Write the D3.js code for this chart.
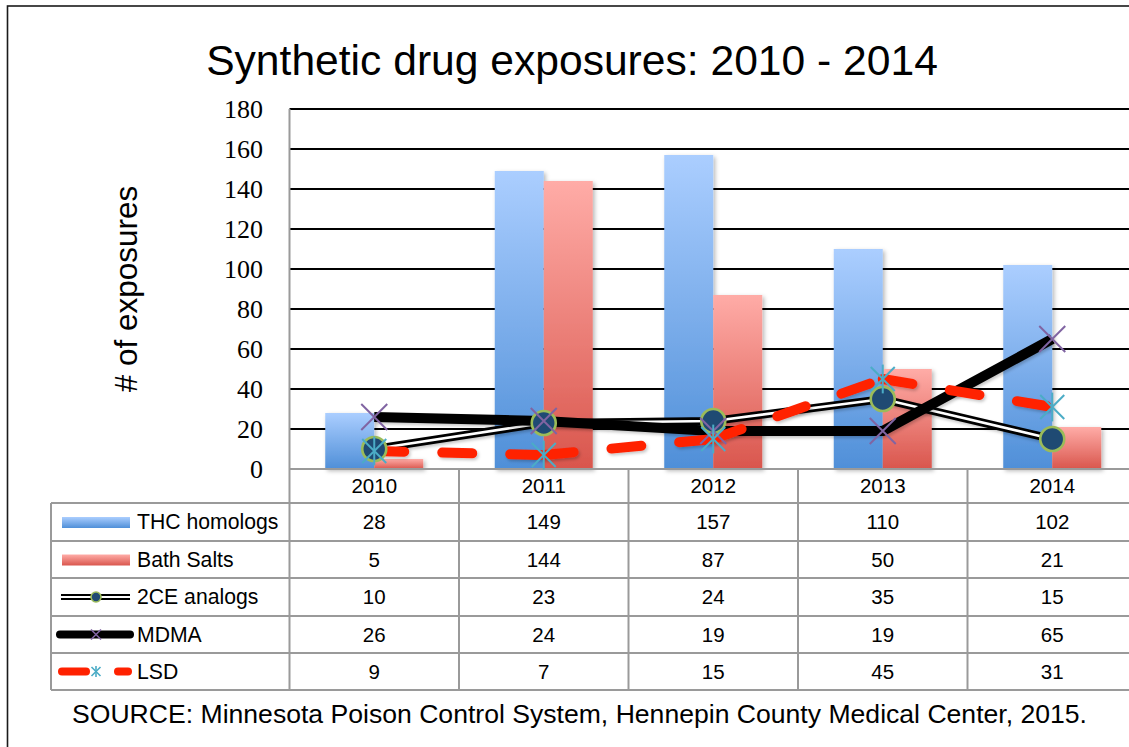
<!DOCTYPE html>
<html>
<head>
<meta charset="utf-8">
<script src="https://cdn.jsdelivr.net/npm/d3@7"></script>
<style>
  html, body { margin: 0; padding: 0; background: #fff; }
  svg { display: block; }
</style>
</head>
<body>
<svg id="chart" width="1129" height="747"></svg>
<script>
// Annual exposures reported per drug class
const years = ["2010", "2011", "2012", "2013", "2014"];
const thcHomologs = [28, 149, 157, 110, 102];
const bathSalts = [5, 144, 87, 50, 21];
const analogs2CE = [10, 23, 24, 35, 15];
const mdma = [26, 24, 19, 19, 65];
const lsd = [9, 7, 15, 45, 31];
const yTicks = [0, 20, 40, 60, 80, 100, 120, 140, 160, 180];
const seriesNames = ["THC homologs", "Bath Salts", "2CE analogs", "MDMA", "LSD"];

const svg = d3.select("#chart");
const W = 1129, H = 747;

const plot = { left: 289.5, right: 1137, top: 109, bottom: 469 };
const x = d3.scaleBand().domain(years).range([plot.left, plot.right]);
const y = d3.scaleLinear().domain([0, 180]).range([plot.bottom, plot.top]);
const barW = 49;
const sub = d3.scaleBand().domain(["thc", "bath"]).range([0, barW * 2]);
const cx = yr => x(yr) + x.bandwidth() / 2;

const defs = svg.append("defs");
function grad(id, top, bottom) {
  const g = defs.append("linearGradient").attr("id", id)
    .attr("x1", 0).attr("y1", 0).attr("x2", 0).attr("y2", 1);
  g.append("stop").attr("offset", "0%").attr("stop-color", top);
  g.append("stop").attr("offset", "100%").attr("stop-color", bottom);
}
grad("gThc", "#abceff", "#4f8fd8");
grad("gBath", "#ffaca7", "#d9564d");
const sh = defs.append("filter").attr("id", "shadow")
  .attr("x", "-20%").attr("y", "-20%").attr("width", "150%").attr("height", "150%");
sh.append("feDropShadow").attr("dx", 2).attr("dy", 2).attr("stdDeviation", 2.2)
  .attr("flood-color", "#000").attr("flood-opacity", 0.28);
const shLine = defs.append("filter").attr("id", "lshadow")
  .attr("x", "-10%").attr("y", "-50%").attr("width", "120%").attr("height", "200%");
shLine.append("feDropShadow").attr("dx", 1.5).attr("dy", 2).attr("stdDeviation", 1.5)
  .attr("flood-color", "#000").attr("flood-opacity", 0.22);

// Outer frame
svg.append("rect").attr("x", 7.5).attr("y", 6).attr("width", W + 20).attr("height", H + 20)
  .attr("fill", "none").attr("stroke", "#1a1a1a").attr("stroke-width", 1.6);

const font = "Liberation Sans, Arial, sans-serif";

// Title
svg.append("text").attr("x", 572).attr("y", 75).attr("text-anchor", "middle")
  .attr("font-family", font).attr("font-size", 42.6)
  .attr("fill", "#000").text("Synthetic drug exposures: 2010 - 2014");

// Y axis title
svg.append("text").attr("transform", "translate(137,289) rotate(-90)")
  .attr("text-anchor", "middle")
  .attr("font-family", font).attr("font-size", 31.5)
  .attr("fill", "#000").text("# of exposures");

// Gridlines
svg.append("g").selectAll("line").data(yTicks.filter(t => t > 0)).join("line")
  .attr("x1", plot.left).attr("x2", W + 10)
  .attr("y1", d => y(d)).attr("y2", d => y(d))
  .attr("stroke", "#000").attr("stroke-width", 2);

// Y axis labels
const yAxis = d3.axisLeft(y).tickValues(yTicks).tickSize(0).tickPadding(0);
const yg = svg.append("g").attr("transform", `translate(263,0)`).call(yAxis);
yg.select(".domain").remove();
yg.selectAll("text").attr("font-family", "Liberation Serif, serif").attr("font-size", 26)
  .attr("fill", "#000").attr("dy", "0.34em");

// Bars
const barG = svg.append("g").attr("filter", "url(#shadow)");
barG.selectAll("rect.thc").data(years).join("rect").attr("class", "thc")
  .attr("x", d => cx(d) - barW + sub("thc"))
  .attr("width", barW)
  .attr("y", (d, i) => y(thcHomologs[i]))
  .attr("height", (d, i) => y(0) - y(thcHomologs[i]))
  .attr("fill", "url(#gThc)");
barG.selectAll("rect.bath").data(years).join("rect").attr("class", "bath")
  .attr("x", d => cx(d) - barW + sub("bath"))
  .attr("width", barW)
  .attr("y", (d, i) => y(bathSalts[i]))
  .attr("height", (d, i) => y(0) - y(bathSalts[i]))
  .attr("fill", "url(#gBath)");

// Table grid (gray)
const tableLeft = 51;
const rowEdges = [503, 541, 578, 616, 653, 690];
const grid = svg.append("g").attr("stroke", "#9a9a9a").attr("stroke-width", 2);
grid.append("line").attr("x1", plot.left).attr("x2", W + 10).attr("y1", plot.bottom).attr("y2", plot.bottom);
grid.selectAll("line.h").data(rowEdges).join("line").attr("class", "h")
  .attr("x1", tableLeft).attr("x2", W + 10).attr("y1", d => d).attr("y2", d => d);
grid.append("line").attr("x1", tableLeft).attr("x2", tableLeft).attr("y1", rowEdges[0]).attr("y2", rowEdges[5]);
grid.append("line").attr("x1", plot.left).attr("x2", plot.left).attr("y1", plot.top).attr("y2", rowEdges[5]);
grid.selectAll("line.v").data(years.slice(1)).join("line").attr("class", "v")
  .attr("x1", d => x(d)).attr("x2", d => x(d)).attr("y1", plot.bottom).attr("y2", rowEdges[5]);

// Lines
const line = d3.line().x(d => d[0]).y(d => d[1]);
const pts = vals => years.map((yr, i) => [cx(yr), y(vals[i])]);
const lineG = svg.append("g");

// 2CE analogs: double line
const p2ce = pts(analogs2CE);
lineG.append("path").attr("d", line(p2ce)).attr("fill", "none")
  .attr("stroke", "#000").attr("stroke-width", 8).attr("filter", "url(#lshadow)");
lineG.append("path").attr("d", line(p2ce)).attr("fill", "none")
  .attr("stroke", "#fff").attr("stroke-width", 2.6);

// MDMA: heavy black line
const pMdma = pts(mdma);
lineG.append("path").attr("d", line(pMdma)).attr("fill", "none")
  .attr("stroke", "#000").attr("stroke-width", 10).attr("stroke-linejoin", "round")
  .attr("filter", "url(#lshadow)");

// LSD: dashed red, dash pattern restarting at each point
const pLsd = pts(lsd);
const lsdG = lineG.append("g").attr("filter", "url(#lshadow)");
d3.pairs(pLsd).forEach(([a, b]) => {
  lsdG.append("path").attr("d", line([a, b])).attr("fill", "none")
    .attr("stroke", "#ff2100").attr("stroke-width", 10)
    .attr("stroke-linecap", "round").attr("stroke-dasharray", "30,38");
});

// Markers
const mk = svg.append("g");
function circleMarker(g, px, py, r) {
  g.append("circle").attr("cx", px).attr("cy", py).attr("r", r)
    .attr("fill", "#1f4a73").attr("stroke", "#9bbb59").attr("stroke-width", r > 8 ? 2.6 : 1.6);
}
function xMarker(g, px, py, s, color, sw) {
  g.append("path").attr("d", `M${px - s},${py - s}L${px + s},${py + s}M${px - s},${py + s}L${px + s},${py - s}`)
    .attr("stroke", color).attr("stroke-width", sw).attr("fill", "none");
}
function starMarker(g, px, py, s, color, sw) {
  xMarker(g, px, py, s, color, sw);
  g.append("path").attr("d", `M${px},${py - s * 1.2}L${px},${py + s * 1.2}`)
    .attr("stroke", color).attr("stroke-width", sw);
}
p2ce.forEach(p => circleMarker(mk, p[0], p[1], 12));
pMdma.forEach(p => xMarker(mk, p[0], p[1], 13, "#8064a2", 2));
pLsd.forEach(p => starMarker(mk, p[0], p[1], 12, "#4bacc6", 2));

// Table text
const rowMid = i => (rowEdges[i] + rowEdges[i + 1]) / 2;
svg.append("g").selectAll("text").data(years).join("text")
  .attr("x", d => cx(d)).attr("y", (plot.bottom + rowEdges[0]) / 2 + 7)
  .attr("text-anchor", "middle").attr("font-family", font).attr("font-size", 20.5)
  .text(d => d);
const seriesVals = [thcHomologs, bathSalts, analogs2CE, mdma, lsd];
seriesVals.forEach((vals, r) => {
  svg.append("g").selectAll("text").data(vals).join("text")
    .attr("x", (d, i) => cx(years[i])).attr("y", rowMid(r) + 7)
    .attr("text-anchor", "middle").attr("font-family", font).attr("font-size", 20.5)
    .text(d => d);
  svg.append("text").attr("x", 137).attr("y", rowMid(r) + 7)
    .attr("font-family", font).attr("font-size", 21.2).text(seriesNames[r]);
});

// Legend keys
const lg = svg.append("g");
lg.append("rect").attr("x", 62).attr("y", rowMid(0) - 5).attr("width", 68).attr("height", 11).attr("fill", "url(#gThc)");
lg.append("rect").attr("x", 62).attr("y", rowMid(1) - 5).attr("width", 68).attr("height", 11).attr("fill", "url(#gBath)");
{
  const yy = rowMid(2);
  lg.append("line").attr("x1", 61).attr("x2", 130).attr("y1", yy).attr("y2", yy)
    .attr("stroke", "#000").attr("stroke-width", 6);
  lg.append("line").attr("x1", 61).attr("x2", 130).attr("y1", yy).attr("y2", yy)
    .attr("stroke", "#fff").attr("stroke-width", 2);
  circleMarker(lg, 96, yy, 5);
}
{
  const yy = rowMid(3);
  lg.append("line").attr("x1", 60).attr("x2", 130).attr("y1", yy).attr("y2", yy)
    .attr("stroke", "#000").attr("stroke-width", 8).attr("stroke-linecap", "round");
  xMarker(lg, 96, yy, 5, "#8064a2", 1.6);
}
{
  const yy = rowMid(4);
  lg.append("line").attr("x1", 62).attr("x2", 86).attr("y1", yy).attr("y2", yy)
    .attr("stroke", "#ff2100").attr("stroke-width", 8).attr("stroke-linecap", "round");
  lg.append("line").attr("x1", 118).attr("x2", 128).attr("y1", yy).attr("y2", yy)
    .attr("stroke", "#ff2100").attr("stroke-width", 8).attr("stroke-linecap", "round");
  starMarker(lg, 96, yy, 4.5, "#4bacc6", 1.6);
}

// Source note
svg.append("text").attr("x", 579.5).attr("y", 723).attr("text-anchor", "middle")
  .attr("font-family", font).attr("font-size", 26).attr("fill", "#000")
  .attr("textLength", 1015).attr("lengthAdjust", "spacingAndGlyphs")
  .text("SOURCE: Minnesota Poison Control System, Hennepin County Medical Center, 2015.");
</script>
</body>
</html>
